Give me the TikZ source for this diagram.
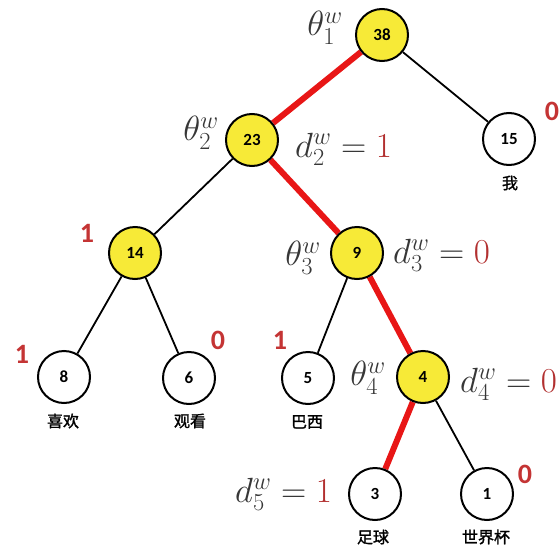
\RequirePackage{fix-cm}
\documentclass[tikz,border=0pt]{standalone}
\usepackage{fontspec}
\newfontfamily\numfont{Carlito}
\newfontfamily\cjk[FakeBold=1.5]{Noto Sans CJK SC}
\usetikzlibrary{backgrounds}
\definecolor{nodeyellow}{RGB}{247,234,55}
\definecolor{pathred}{RGB}{232,22,22}
\definecolor{bitred}{RGB}{196,52,52}
\definecolor{mathgray}{RGB}{55,55,55}
\definecolor{mathred}{RGB}{178,48,48}
\tikzset{
  tnode/.style={circle,draw=black,line width=2pt,minimum size=52pt,inner sep=0pt,font=\numfont\bfseries\fontsize{17}{17}\selectfont},
  ynode/.style={tnode,fill=nodeyellow},
  wnode/.style={tnode,fill=white},
  plain/.style={draw=black,line width=1.8pt},
  hot/.style={draw=pathred,line width=6pt},
  bit/.style={text=bitred,font=\numfont\bfseries\fontsize{28}{28}\selectfont,inner sep=0pt},
  mlabel/.style={text=mathgray,font=\fontsize{35}{35}\selectfont,inner sep=0pt},
  word/.style={font=\cjk\fontsize{16}{16}\selectfont,inner sep=0pt},
}
\begin{document}
\begin{tikzpicture}[x=1pt,y=-1pt]
\useasboundingbox (0,0) rectangle (560,549);
% nodes
\node[ynode] (n38) at (382,35) {38};
\node[wnode] (n15) at (509,139) {15};
\node[ynode] (n23) at (252,140) {23};
\node[ynode] (n14) at (135,253) {14};
\node[ynode] (n9) at (357,253) {9};
\node[wnode] (n8) at (64,377) {8};
\node[wnode] (n6) at (189,378) {6};
\node[wnode] (n5) at (308,378) {5};
\node[ynode] (n4) at (423,377) {4};
\node[wnode] (n3) at (375,494) {3};
\node[wnode] (n1) at (487,494) {1};
% edges
\begin{scope}[on background layer]
\draw[hot] (n38) -- (n23);
\draw[hot] (n23) -- (n9);
\draw[hot] (n9) -- (n4);
\draw[hot] (n4) -- (n3);
\draw[plain] (n38) -- (n15);
\draw[plain] (n23) -- (n14);
\draw[plain] (n14) -- (n8);
\draw[plain] (n14) -- (n6);
\draw[plain] (n9) -- (n5);
\draw[plain] (n4) -- (n1);
\end{scope}
% math labels
\node[mlabel] (t1) at (325,28) {$\theta_1^w$};
\node[mlabel] (t2) at (201,133) {$\theta_2^w$};
\node[mlabel] (t3) at (303,258) {$\theta_3^w$};
\node[mlabel] (t4) at (368,378) {$\theta_4^w$};
\node[mlabel,anchor=base west] (dd2) at (295,157) {$d_2^w={\color{mathred}1}$};
\node[mlabel,anchor=base west] (dd3) at (393,263) {$d_3^w={\color{mathred}0}$};
\node[mlabel,anchor=base west] (dd4) at (460,392) {$d_4^w={\color{mathred}0}$};
\node[mlabel,anchor=base west] (dd5) at (235,502) {$d_5^w={\color{mathred}1}$};
% bits
\node[bit] (b15) at (552,111) {0};
\node[bit] (b14) at (87,233) {1};
\node[bit] (b8) at (22,354) {1};
\node[bit] (b6) at (218,340) {0};
\node[bit] (b5) at (280,340) {1};
\node[bit] (b1) at (525,474) {0};
% words
\node[word] (w15) at (510,183) {我};
\node[word] (w8) at (63,421) {喜欢};
\node[word] (w6) at (190,421) {观看};
\node[word] (w5) at (307,422) {巴西};
\node[word] (w3) at (373,537) {足球};
\node[word] (w1) at (486,537) {世界杯};
\end{tikzpicture}
\end{document}
